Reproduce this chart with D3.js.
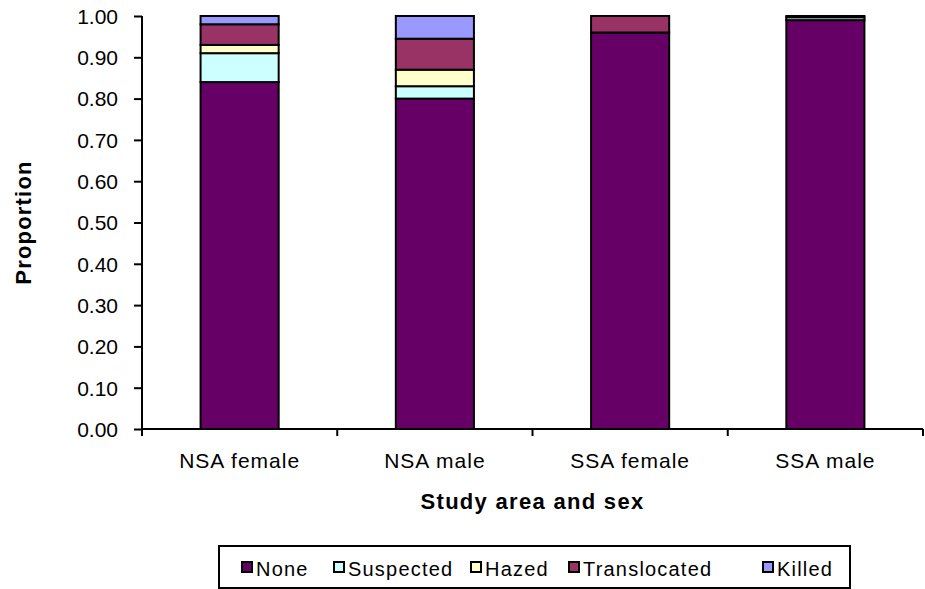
<!DOCTYPE html>
<html><head><meta charset="utf-8">
<script src="https://cdn.jsdelivr.net/npm/d3@7"></script>
<style>body{margin:0;background:#fff}svg{display:block}text{font-family:Arial,"Liberation Sans",sans-serif;fill:#000}</style>
</head><body><svg id="c" width="925" height="589"></svg>
<script>
const categories = ["NSA female", "NSA male", "SSA female", "SSA male"];
const seriesNames = ["None", "Suspected", "Hazed", "Translocated", "Killed"];
const seriesColors = ["#660066", "#CCFFFF", "#FFFFCC", "#993366", "#9999FF"];
const none =         [0.84, 0.80, 0.96, 0.99];
const suspected =    [0.07, 0.03, 0.00, 0.007];
const hazed =        [0.02, 0.04, 0.00, 0.00];
const translocated = [0.05, 0.075, 0.04, 0.003];
const killed =       [0.02, 0.055, 0.00, 0.00];
const yTicks = [0, 0.1, 0.2, 0.3, 0.4, 0.5, 0.6, 0.7, 0.8, 0.9, 1.0];

// layout only: legend item left edges (px)
const legendX = [241, 333, 470, 568, 762];

const seriesValues = [none, suspected, hazed, translocated, killed];
const rows = categories.map((c, i) => {
  const r = {cat: c};
  seriesNames.forEach((s, k) => r[s] = seriesValues[k][i]);
  return r;
});
const stacked = d3.stack().keys(seriesNames)(rows);

const svg = d3.select("#c");
const pLeft = 142, pRight = 923, pTop = 16, pBottom = 429;
const x = d3.scaleBand().domain(categories).range([pLeft, pRight]).paddingInner(0).paddingOuter(0);
const y = d3.scaleLinear().domain([0, 1]).range([pBottom, pTop]);
const bw = x.bandwidth() * 0.4;

const g = svg.append("g");
stacked.forEach((layer, k) => {
  g.selectAll(null).data(layer.filter(d => d[1] - d[0] > 0)).enter().append("rect")
    .attr("x", d => x(d.data.cat) + (x.bandwidth() - bw) / 2)
    .attr("width", bw)
    .attr("y", d => y(d[1]))
    .attr("height", d => y(d[0]) - y(d[1]))
    .attr("fill", seriesColors[k])
    .attr("stroke", "#000").attr("stroke-width", 2);
});

// Y axis
const ya = svg.append("g").attr("transform", `translate(${pLeft},0)`)
  .call(d3.axisLeft(y).tickValues(yTicks).tickFormat(d3.format(".2f")).tickSize(8).tickPadding(16));
ya.select(".domain").attr("stroke", "#000").attr("stroke-width", 2).attr("d", `M0,${pBottom}V${pTop}`);
ya.selectAll(".tick line").attr("stroke", "#000").attr("stroke-width", 2);
ya.selectAll(".tick text").attr("font-size", 21).attr("font-family", "Arial, 'Liberation Sans', sans-serif").attr("dy", "0.35em");

// X axis
const xa = svg.append("g").attr("transform", `translate(0,${pBottom})`)
  .call(d3.axisBottom(x).tickSize(0).tickPadding(0));
xa.select(".domain").attr("stroke", "#000").attr("stroke-width", 2).attr("d", `M${pLeft},0H${pRight}`);
xa.selectAll(".tick text").attr("font-size", 21).attr("letter-spacing", "1px")
  .attr("font-family", "Arial, 'Liberation Sans', sans-serif").attr("y", 39).attr("dy", 0);
const bounds = categories.map(c => x(c)).concat([pRight]);
xa.selectAll(null).data(bounds).enter().append("line")
  .attr("x1", d => d).attr("x2", d => d).attr("y1", 0).attr("y2", 7)
  .attr("stroke", "#000").attr("stroke-width", 2);

// Titles
svg.append("text").attr("x", (pLeft + pRight) / 2).attr("y", 509).attr("text-anchor", "middle")
  .attr("font-size", 22).attr("font-weight", "bold").attr("letter-spacing", "1.3px").text("Study area and sex");
svg.append("text").attr("transform", `translate(31,${(pTop + pBottom) / 2}) rotate(-90)`).attr("text-anchor", "middle")
  .attr("font-size", 22).attr("font-weight", "bold").attr("letter-spacing", "1.2px").text("Proportion");

// Legend
const lg = svg.append("g");
lg.append("rect").attr("x", 219).attr("y", 546).attr("width", 850 - 219).attr("height", 42)
  .attr("fill", "#fff").attr("stroke", "#000").attr("stroke-width", 2);
seriesNames.forEach((s, k) => {
  const lx = legendX[k];
  lg.append("rect").attr("x", lx + 1).attr("y", 562).attr("width", 10).attr("height", 10)
    .attr("fill", seriesColors[k]).attr("stroke", "#000").attr("stroke-width", 2);
  lg.append("text").attr("x", lx + 15).attr("y", 576).attr("font-size", 20)
    .attr("letter-spacing", "1.2px").text(s);
});
</script></body></html>
